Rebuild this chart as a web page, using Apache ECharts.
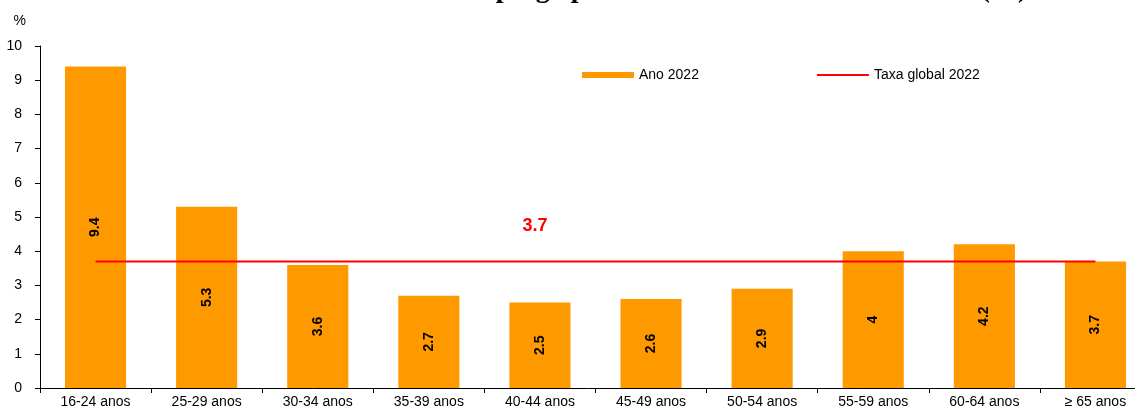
<!DOCTYPE html>
<html>
<head>
<meta charset="utf-8">
<script src="https://cdn.jsdelivr.net/npm/echarts@6/dist/echarts.min.js"></script>
<style>
 html, body { margin: 0; padding: 0; background: #fff; }
 #chart { width: 1135px; height: 412px; }
</style>
</head>
<body>
<div id="chart"></div>
<script>
// age groups on the x axis
var ageGroups = ['16-24 anos', '25-29 anos', '30-34 anos', '35-39 anos', '40-44 anos',
 '45-49 anos', '50-54 anos', '55-59 anos', '60-64 anos', '\u2265 65 anos'];
// unemployment rate by age group, 2022 (%)
var rates2022 = [9.4, 5.3, 3.6, 2.7, 2.5, 2.6, 2.9, 4, 4.2, 3.7];
// overall rate, drawn as a flat line across all groups
var globalRate = 3.7;
var globalLine = ageGroups.map(function () { return globalRate; });

var myChart = echarts.init(document.getElementById('chart'));

var font = 'Liberation Sans, Arial, sans-serif';

var option = {
 animation: false,
 textStyle: { fontFamily: font },
 title: {
  text: 'Gráfico 1 - Taxa de desemprego por escalões etários - Ano de 2022 (%)',
  left: 180,
  top: -29,
  textStyle: { fontFamily: 'Liberation Serif, Times New Roman, serif', fontSize: 28, fontWeight: 'bold', color: '#000' }
 },
 legend: {
  top: 63,
  left: 577,
  itemWidth: 52,
  itemHeight: 6,
  itemGap: 118,
  textStyle: { fontFamily: font, fontSize: 14, color: '#000' },
  data: [
   { name: 'Ano 2022', icon: 'rect' },
   { name: 'Taxa global 2022', icon: 'path://M0,0 L52,0 L52,2 L0,2 Z', itemStyle: { color: '#FF0000' } }
  ]
 },
 // the plot runs a little past the right edge of the picture
 grid: { left: 40, width: 1111, top: 46, bottom: 24, outerBoundsMode: 'none' },
 xAxis: {
  type: 'category',
  data: ageGroups,
  axisLine: { lineStyle: { color: '#000', width: 1 } },
  axisTick: { show: true, length: 5, lineStyle: { color: '#000' } },
  axisLabel: { color: '#000', fontSize: 14, fontFamily: font, margin: 7, interval: 0 }
 },
 yAxis: {
  type: 'value',
  min: 0,
  max: 10,
  interval: 1,
  name: '%',
  nameLocation: 'end',
  nameGap: 18,
  nameTextStyle: { color: '#000', fontSize: 14, align: 'right', padding: [0, 14, 0, 0] },
  axisLine: { show: true, lineStyle: { color: '#000', width: 1 } },
  axisTick: { show: true, length: 5, lineStyle: { color: '#000' } },
  axisLabel: { color: '#000', fontSize: 14, fontFamily: font, margin: 18 },
  splitLine: { show: false }
 },
 series: [
  {
   name: 'Ano 2022',
   type: 'bar',
   data: rates2022,
   barWidth: '55%',
   itemStyle: { color: '#FF9900' },
   label: {
    show: true,
    position: 'inside',
    rotate: 90,
    color: '#000',
    fontWeight: 'bold',
    fontSize: 14,
    fontFamily: font
   },
   z: 2
  },
  {
   name: 'Taxa global 2022',
   type: 'line',
   data: globalLine.map(function (v, i) {
    if (i === 4) {
     return {
      value: v,
      label: {
       show: true,
       position: 'top',
       distance: 26,
       color: '#FF0000',
       fontWeight: 'bold',
       fontSize: 18,
       fontFamily: font,
       offset: [-5, 0]
      }
     };
    }
    return v;
   }),
   symbol: 'circle',
   symbolSize: 0,
   showSymbol: true,
   lineStyle: { color: '#FF0000', width: 2 },
   itemStyle: { color: '#FF0000' },
   z: 3
  }
 ]
};

myChart.setOption(option);
</script>
</body>
</html>
